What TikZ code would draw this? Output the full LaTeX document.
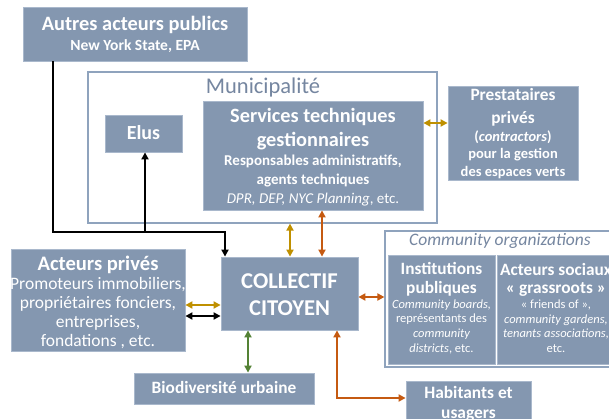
\documentclass[tikz,border=0pt]{standalone}
\usepackage{fontspec}
\setmainfont{Carlito}
\usetikzlibrary{arrows.meta}
\definecolor{boxfill}{HTML}{8497B0}
\definecolor{boxedge}{HTML}{A9B8CC}
\definecolor{frameline}{HTML}{8FA3BD}
\definecolor{titlecol}{HTML}{7586A0}
\definecolor{goldc}{HTML}{BF9000}
\definecolor{orangec}{HTML}{C55A11}
\definecolor{greenc}{HTML}{548235}
\newcommand\fsz[2]{\fontsize{#1}{#2}\selectfont}
\tikzset{
  actor/.style={fill=boxfill, draw=boxedge, line width=0.8pt, inner sep=0pt},
  label text/.style={text=white, inner sep=0pt, align=center, anchor=base},
  frame/.style={draw=frameline, line width=1.2pt, inner sep=0pt},
  tip/.style={-{Triangle[length=7pt,width=7pt]}},
  dtip/.style={{Triangle[length=7pt,width=7pt]}-{Triangle[length=7pt,width=7pt]}},
  conn/.style={line width=1.8pt},
}
\begin{document}
\begin{tikzpicture}[x=1pt,y=-1pt]
\useasboundingbox (0,0) rectangle (609,419);
\fill[white] (0,0) rectangle (609,419);

% frames
\node[frame, minimum width=349pt, minimum height=151pt] (muni) at (262.5,147.5) {};
\node[text=titlecol, inner sep=0pt, anchor=base, font=\fsz{22.5}{26}] (munit) at (263,93.3) {Municipalité};
\node[frame, minimum width=232pt, minimum height=136pt] (comm) at (501,299) {};
\node[text=titlecol, inner sep=0pt, anchor=base, font=\fsz{17.5}{20}\itshape] (commt) at (500,246) {Community organizations};

% boxes
\node[actor, minimum width=224pt, minimum height=54pt] (autres) at (135,34) {};
\node[actor, minimum width=77pt, minimum height=37pt] (elus) at (143.5,133.5) {};
\node[actor, minimum width=220pt, minimum height=109pt] (services) at (313,155.5) {};
\node[actor, minimum width=130pt, minimum height=94pt] (prest) at (513,133) {};
\node[actor, minimum width=174pt, minimum height=102pt] (prives) at (98,300) {};
\node[actor, minimum width=137pt, minimum height=73pt] (collectif) at (289.5,293.5) {};
\node[actor, minimum width=180pt, minimum height=31pt] (biodiv) at (224,388.5) {};
\node[actor, minimum width=107pt, minimum height=109pt] (inst) at (441.5,309.5) {};
\node[actor, minimum width=118pt, minimum height=109pt] (sociaux) at (556,309.5) {};
\node[actor, minimum width=125pt, minimum height=50pt] (habit) at (468.5,406) {};

% box texts (anchored at the baseline of their last line)
\node[label text, font=\fsz{16}{20}] (autres-t) at (135,51)
  {\fsz{20.4}{24}\bfseries Autres acteurs publics\\\fsz{15.5}{19}\bfseries New York State, EPA};
\node[label text, font=\fsz{20}{24}] (elus-t) at (143.5,139.3) {\bfseries Elus};
\node[label text, font=\fsz{15}{19}] (services-t) at (313,204)
  {\fsz{20.3}{24}\bfseries Services techniques\\[5pt]\fsz{20.3}{24}\bfseries gestionnaires\\
   \fsz{15}{19}\bfseries Responsables administratifs,\\\fsz{15}{19}\bfseries agents techniques\\
   \fsz{15}{19}\textit{DPR, DEP, NYC Planning}, etc.};
\node[label text, font=\fsz{14.5}{17.3}] (prest-t) at (513,176.3)
  {\fsz{17.3}{21}\bfseries Prestataires\\[5.3pt]\fsz{17.3}{21}\bfseries privés\\[1.1pt]
   \fsz{14.5}{17}\bfseries (\textit{contractors})\\\fsz{14.5}{17}\bfseries pour la gestion\\
   \fsz{14.5}{17}\bfseries des espaces verts};
\node[label text, font=\fsz{17.5}{19}] (prives-t) at (98,346.7)
  {\fsz{20.6}{24}\bfseries Acteurs privés\\[0.7pt]\fsz{17.5}{21}Promoteurs immobiliers,\\
   \fsz{17.5}{21}propriétaires fonciers,\\\fsz{17.5}{21}entreprises,\\\fsz{17.5}{21}fondations , etc.};
\node[label text, font=\fsz{22.6}{27}] (collectif-t) at (289.5,315.3)
  {\fsz{22.6}{27}\bfseries COLLECTIF\\\fsz{22.6}{27}\bfseries CITOYEN};
\node[label text, font=\fsz{17.3}{20}] (biodiv-t) at (224,393.3) {\bfseries Biodiversité urbaine};
\node[label text, font=\fsz{12.5}{14.7}] (inst-t) at (441.5,352.2)
  {\fsz{17.3}{20}\bfseries Institutions\\[3.6pt]\fsz{17.3}{20}\bfseries publiques\\[0.3pt]
   \fsz{12.5}{15}\itshape Community boards,\\\fsz{12.5}{15}représentants des\\
   \fsz{12.5}{15}\itshape community\\\fsz{12.5}{15}\textit{districts}, etc.};
\node[label text, font=\fsz{12.5}{14.7}] (sociaux-t) at (556,352.5)
  {\fsz{17.3}{20}\bfseries Acteurs sociaux\\[3.6pt]\fsz{17.3}{20}\bfseries « grassroots »\\[0.3pt]
   \fsz{12.5}{15}« friends of »,\\\fsz{12.5}{15}\itshape community gardens,\\
   \fsz{12.5}{15}\itshape tenants associations,\\\fsz{12.5}{15}etc.};
\node[label text, font=\fsz{17.4}{20}] (habit-t) at (468.5,418.3)
  {\fsz{17.4}{20}\bfseries Habitants et\\\fsz{17.4}{20}\bfseries usagers};

% black connectors
\coordinate (j1) at (53,232);
\coordinate (j2) at (145,232);
\coordinate (j3) at (225,232);
\draw[conn, tip] (j1 |- autres.south) -- (j1) -- (j3) -- (j3 |- collectif.north);
\draw[conn, tip] (j2) -- (j2 |- elus.south);
\draw[conn, dtip] ([yshift=-16pt]prives.east) -- ([yshift=-16pt]prives.east -| collectif.west);

% gold
\draw[conn, dtip, goldc] ([yshift=-5pt]prives.east) -- ([yshift=-5pt]prives.east -| collectif.west);
\draw[conn, dtip, goldc] ([xshift=0.5pt]collectif.north) -- ([xshift=0.5pt]collectif.north |- muni.south);
\draw[conn, dtip, goldc] ([yshift=10pt]prest.west) -- ([yshift=10pt]prest.west -| services.east);

% orange
\draw[conn, dtip, orangec] ([xshift=32.5pt]collectif.north) -- ([xshift=32.5pt]collectif.north |- services.south);
\draw[conn, dtip, orangec] ([yshift=-3.5pt]collectif.east) -- ([yshift=-3.5pt]collectif.east -| comm.west);
\draw[conn, dtip, orangec] ([xshift=47.5pt]collectif.south) |- ([yshift=8pt]habit.west);

% green
\draw[conn, dtip, greenc] ([xshift=-41.5pt]collectif.south) -- ([xshift=-41.5pt]collectif.south |- biodiv.north);
\end{tikzpicture}
\end{document}
